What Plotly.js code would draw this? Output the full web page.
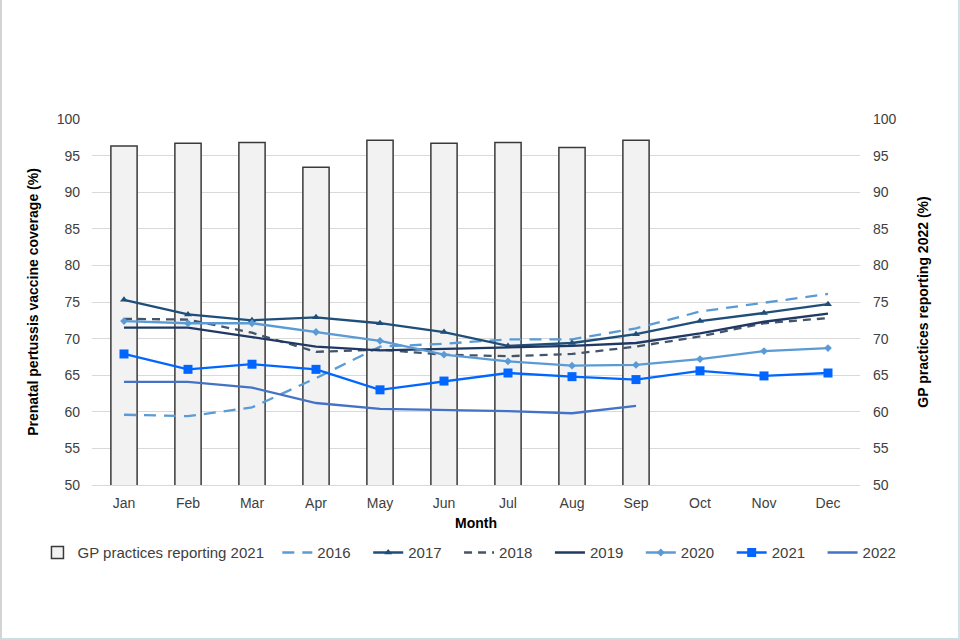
<!DOCTYPE html>
<html>
<head>
<meta charset="utf-8">
<script src="https://cdn.plot.ly/plotly-3.0.1.min.js"></script>
<style>
html,body{margin:0;padding:0;background:#fff;}
#wrap{width:960px;height:640px;box-sizing:border-box;border-left:2px solid #d4d4d4;border-right:2px solid #d0e4e6;border-bottom:2px solid #c8e0e2;}
#chart{width:956px;height:638px;}
</style>
</head>
<body>
<div id="wrap"><div id="chart"></div></div>
<script>
const months = ["Jan","Feb","Mar","Apr","May","Jun","Jul","Aug","Sep","Oct","Nov","Dec"];
const gpMonths = ["Jan","Feb","Mar","Apr","May","Jun","Jul","Aug","Sep"];
const gpReporting = [96.3, 96.7, 96.8, 93.4, 97.1, 96.7, 96.8, 96.1, 97.1];
const y2016 = [59.6, 59.4, 60.6, 64.6, 68.9, 69.3, 69.9, 69.9, 71.4, 73.7, 74.9, 76.1];
const y2017 = [75.3, 73.3, 72.5, 72.9, 72.1, 70.9, 69.0, 69.4, 70.6, 72.4, 73.5, 74.7];
const y2018 = [72.7, 72.6, 70.8, 68.2, 68.5, 67.8, 67.6, 67.9, 68.9, 70.3, 72.1, 72.8];
const y2019 = [71.5, 71.5, 70.2, 68.9, 68.4, 68.6, 68.7, 69.0, 69.4, 70.7, 72.3, 73.4];
const y2020 = [72.4, 72.1, 72.1, 70.9, 69.7, 67.8, 66.9, 66.3, 66.4, 67.2, 68.3, 68.7];
const y2021 = [67.9, 65.8, 66.5, 65.8, 63.0, 64.2, 65.3, 64.8, 64.4, 65.6, 64.9, 65.3];
const y2022 = [64.1, 64.1, 63.3, 61.2, 60.4, 60.3, 60.1, 59.8, 60.8];
const yTicks = [50,55,60,65,70,75,80,85,90,95,100];

const fam = "Liberation Sans, Arial, sans-serif";
const font = {family: fam, size: 14, color: "#404040"};
const titleFont = {family: fam, size: 14, color: "#000"};
const pad = "\u00a0\u00a0\u00a0";

const traces = [
  {type:"bar", name:"GP practices reporting 2021\u00a0\u00a0", x:gpMonths, y:gpReporting, base:0,
   marker:{color:"#f2f2f2", line:{color:"#3a3a3a", width:1.5}}, width:0.41, yaxis:"y"},
  {type:"scatter", mode:"lines", name:"2016" + pad, x:months, y:y2016,
   line:{color:"#5B9BD5", width:2.3, dash:"12px,8px"}},
  {type:"scatter", mode:"lines+markers", name:"2017" + pad, x:months, y:y2017,
   line:{color:"#1F4E79", width:2.3}, marker:{symbol:"triangle-up", size:7, color:"#1F4E79"}},
  {type:"scatter", mode:"lines", name:"2018" + pad, x:months, y:y2018,
   line:{color:"#44546A", width:2.3, dash:"8px,6px"}},
  {type:"scatter", mode:"lines", name:"2019" + pad, x:months, y:y2019,
   line:{color:"#203864", width:2.3}},
  {type:"scatter", mode:"lines+markers", name:"2020" + pad, x:months, y:y2020,
   line:{color:"#5B9BD5", width:2.3}, marker:{symbol:"diamond", size:6, color:"#5B9BD5"}},
  {type:"scatter", mode:"lines+markers", name:"2021" + pad, x:months, y:y2021,
   line:{color:"#0066FF", width:2.3}, marker:{symbol:"square", size:9, color:"#0066FF"}},
  {type:"scatter", mode:"lines", name:"2022", x:months.slice(0, y2022.length), y:y2022,
   line:{color:"#4472C4", width:2.3}},
  {type:"scatter", mode:"lines", x:months, y:y2016, yaxis:"y2", showlegend:false,
   hoverinfo:"skip", line:{width:0, color:"rgba(0,0,0,0)"}}
];

const layout = {
  width:956, height:638,
  margin:{l:90, r:98, t:119, b:153},
  paper_bgcolor:"#fff", plot_bgcolor:"#fff",
  font: font,
  showlegend:true,
  xaxis:{type:"category", categoryorder:"array", categoryarray:months, range:[-0.5, 11.5],
    automargin:false, showline:true, linecolor:"#d9d9d9", linewidth:1, ticks:"", showgrid:false,
    tickfont:font, ticklabelstandoff:5,
    title:{text:"<b>Month</b>", font:titleFont, standoff:8}},
  yaxis:{range:[50,100], tickvals:yTicks, showgrid:true, gridcolor:"#d9d9d9", gridwidth:1,
    automargin:false, zeroline:false, showline:false, ticks:"", tickfont:font, ticklabelstandoff:11,
    title:{text:"<b>Prenatal pertussis vaccine coverage (%)</b>", font:titleFont, standoff:14}},
  yaxis2:{range:[50,100], tickvals:yTicks, overlaying:"y", side:"right", showgrid:false,
    automargin:false, zeroline:false, showline:false, ticks:"", tickfont:font, ticklabelstandoff:12,
    title:{text:"<b>GP practices reporting 2022 (%)</b>", font:titleFont, standoff:22}},
  legend:{orientation:"h", x:1.054, xanchor:"right", y:-0.14, yanchor:"top",
    font:{family:fam, size:15, color:"#404040"}, itemwidth:30, tracegroupgap:0}
};

Plotly.newPlot("chart", traces, layout, {displayModeBar:false, staticPlot:true});
</script>
</body>
</html>
